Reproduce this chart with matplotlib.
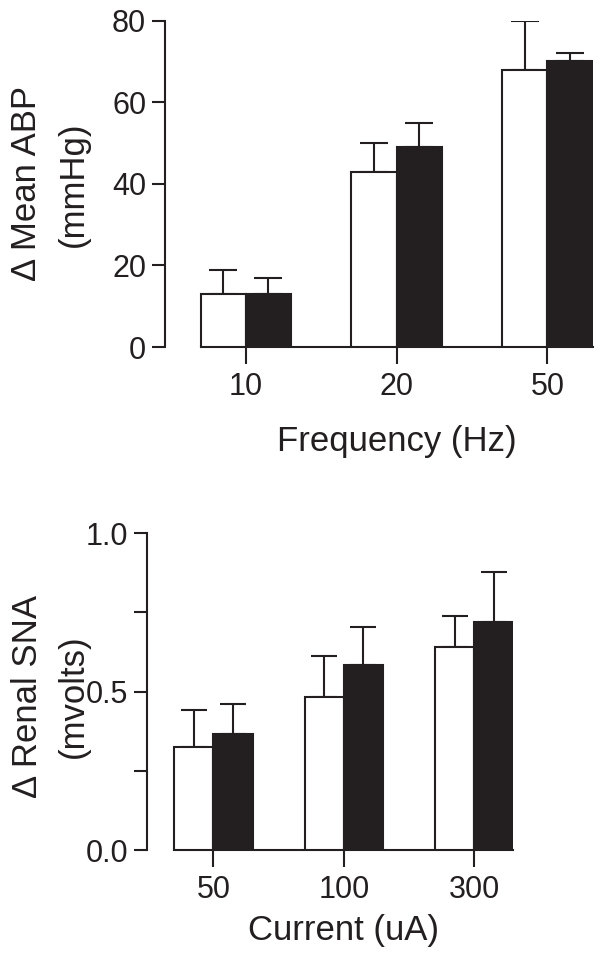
import matplotlib
matplotlib.use("Agg")
import matplotlib.pyplot as plt
import numpy as np

plt.rcParams['font.family'] = ['Liberation Sans', 'DejaVu Sans']

INK = '#231f20'

# Top panel data
freq_labels = ['10', '20', '50']
abp_open = [13, 43, 68]
abp_open_err = [6, 7, 12]
abp_filled = [13, 49, 70]
abp_filled_err = [4, 6, 2]

# Bottom panel data
current_labels = ['50', '100', '300']
sna_open = [0.324, 0.482, 0.641]
sna_open_err = [0.118, 0.132, 0.099]
sna_filled = [0.366, 0.584, 0.721]
sna_filled_err = [0.095, 0.121, 0.158]

fig = plt.figure(figsize=(6.03, 9.63), dpi=100)

def panel(rect, labels, op, operr, fi, fierr, ylim, yticks, yminor, yticklabels,
          xlab, ylab, xlim, capsize, tick_fs, lab_fs, xlab_y, ylab_x, ylab_y):
    ax = fig.add_axes(rect)
    x = np.arange(len(labels))
    w = 0.3
    ax.bar(x - w / 2, op, width=w, color='white', edgecolor=INK, linewidth=1.5, zorder=3)
    ax.bar(x + w / 2, fi, width=w, color=INK, edgecolor=INK, linewidth=1.5, zorder=3)
    ax.errorbar(x - w / 2, op, yerr=[np.zeros(len(op)), operr], fmt='none',
                ecolor=INK, elinewidth=1.5, capsize=capsize, capthick=1.5, zorder=2)
    ax.errorbar(x + w / 2, fi, yerr=[np.zeros(len(fi)), fierr], fmt='none',
                ecolor=INK, elinewidth=1.5, capsize=capsize, capthick=1.5, zorder=2)
    ax.set_xlim(*xlim)
    ax.set_ylim(*ylim)
    ax.set_xticks(x)
    ax.set_xticklabels(labels, fontsize=tick_fs, color=INK)
    ax.set_yticks(yticks)
    ax.set_yticklabels(yticklabels, fontsize=tick_fs, color=INK)
    if yminor is not None:
        ax.set_yticks(yminor, minor=True)
    for s in ['top', 'right']:
        ax.spines[s].set_visible(False)
    ax.spines['left'].set_bounds(ylim[0], ylim[1])
    ax.spines['bottom'].set_bounds(x[0] - w, x[-1] + w)
    for s in ['left', 'bottom']:
        ax.spines[s].set_linewidth(1.5)
        ax.spines[s].set_color(INK)
    ax.tick_params(axis='y', which='both', length=9.5, width=1.5, color=INK, pad=4)
    ax.tick_params(axis='x', length=12, width=1.5, color=INK, pad=6)
    ax.patch.set_visible(False)
    xc = (1 - xlim[0]) / (xlim[1] - xlim[0])
    ax.text(xc, xlab_y, xlab, transform=ax.transAxes, ha='center', va='center',
            fontsize=lab_fs, color=INK)
    ax.text(ylab_x, ylab_y, ylab, transform=ax.transAxes, ha='center', va='center',
            rotation=90, fontsize=lab_fs, color=INK, linespacing=1.5,
            multialignment='center')
    return ax

ax1 = panel([165 / 603, 1 - 347 / 963, 427.7 / 603, 326.3 / 963],
            freq_labels, abp_open, abp_open_err, abp_filled, abp_filled_err,
            (0, 80), [0, 20, 40, 60, 80], None, ['0', '20', '40', '60', '80'],
            'Frequency (Hz)', 'Δ Mean ABP\n(mmHg)', (-0.536, 2.3), 10.4, 22, 25,
            (347 - 441) / 326.3, (50 - 165) / 427.7, 0.5)

ax2 = panel([146.7 / 603, 1 - 850 / 963, 366.6 / 603, 316.7 / 963],
            current_labels, sna_open, sna_open_err, sna_filled, sna_filled_err,
            (0, 1.0), [0, 0.5, 1.0], [0.25, 0.75], ['0.0', '0.5', '1.0'],
            'Current (uA)', 'Δ Renal SNA\n(mvolts)', (-0.512, 2.3), 9.2, 22, 25,
            (850 - 930) / 316.7, (50 - 146.7) / 366.6, 0.485)

fig.savefig('out.png', dpi=100)
